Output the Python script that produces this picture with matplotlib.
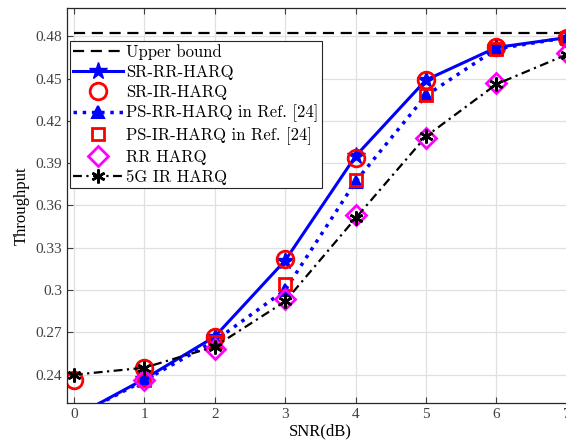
import numpy as np
import matplotlib
matplotlib.use("Agg")
import matplotlib.pyplot as plt
from matplotlib.ticker import FuncFormatter

snr = [0, 1, 2, 3, 4, 5, 6, 7]
upper_bound = [0.482] * len(snr)
sr_rr = [0.210, 0.237, 0.267, 0.321, 0.395, 0.449, 0.472, 0.479]
sr_ir = [0.236, 0.245, 0.267, 0.322, 0.394, 0.449, 0.472, 0.479]
ps_rr = [0.210, 0.236, 0.264, 0.300, 0.377, 0.438, 0.471, 0.479]
ps_ir = [0.210, 0.236, 0.263, 0.304, 0.378, 0.438, 0.471, 0.479]
rr_harq = [0.205, 0.236, 0.258, 0.294, 0.353, 0.408, 0.447, 0.468]
ir_5g = [0.240, 0.245, 0.260, 0.292, 0.351, 0.409, 0.446, 0.467]

plt.rcParams['font.family'] = ['Liberation Serif', 'DejaVu Serif']

fig = plt.figure(figsize=(5.66, 4.46), dpi=100)
ax = fig.add_axes([0.118, 0.0964, 0.896, 0.8857])

ax.plot(snr, upper_bound, 'k--', lw=1.6, dashes=(5, 3), label='Upper bound')
ax.plot(snr, sr_rr, '-', color='blue', lw=2.2, marker='*', ms=13,
        label='SR-RR-HARQ')
ax.plot(snr, sr_ir, 'o', color='red', mfc='none', mew=2, ms=12,
        label='SR-IR-HARQ')
ax.plot(snr, ps_rr, ':', color='blue', lw=2.5, marker='^', ms=8, mew=1.5,
        mfc='blue', label='PS-RR-HARQ in Ref. [24]')
ax.plot(snr, ps_ir, 's', color='red', mfc='none', mew=2, ms=8,
        label='PS-IR-HARQ in Ref. [24]')
ax.plot(snr, rr_harq, 'D', color='magenta', mfc='none', mew=2, ms=10.5,
        label='RR HARQ')
ax.plot(snr, ir_5g, '-.', color='black', lw=1.6, dashes=(4, 2, 1, 2),
        marker=(6, 2, 0), ms=10, mew=1.8, label='5G IR HARQ')

ax.set_xlim(-0.1, 7.1)
ax.set_ylim(0.22, 0.50)
ax.set_xticks(range(0, 8))
ax.set_yticks([0.24, 0.27, 0.30, 0.33, 0.36, 0.39, 0.42, 0.45, 0.48])
ax.yaxis.set_major_formatter(FuncFormatter(lambda v, p: '%g' % round(v, 2)))
ax.grid(True, color='0.88', lw=0.9)
ax.set_axisbelow(True)
ax.tick_params(direction='in', top=True, right=True, labelsize=11,
               colors='0.25', length=4)
for s in ax.spines.values():
    s.set_color('0.15')
    s.set_linewidth(0.9)

ax.set_xlabel('SNR(dB)', fontsize=12, labelpad=2)
ax.set_ylabel('Throughput', fontsize=12, labelpad=4)

leg = ax.legend(loc='upper left', bbox_to_anchor=(0.006, 0.917),
                prop={'family': 'cmr10', 'size': 12}, handlelength=3.0,
                handletextpad=0.2, borderpad=0.2, labelspacing=0.28,
                fancybox=False, edgecolor='0.15', framealpha=1,
                borderaxespad=0)
leg.get_frame().set_linewidth(0.8)

plt.savefig('out.png', dpi=100)
